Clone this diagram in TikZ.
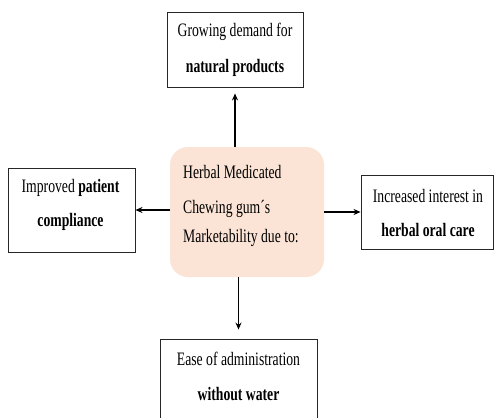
\documentclass[tikz,border=0pt]{standalone}
\usepackage{fontspec}
\setmainfont{Liberation Serif}[FakeStretch=0.72]
\usetikzlibrary{arrows.meta}
\definecolor{peach}{RGB}{251,228,214}
\tikzset{
  box/.style={draw=black!85, line width=0.9pt, fill=white, inner sep=0pt},
  hub/.style={fill=peach, rounded corners=18pt, inner sep=0pt},
  txt/.style={inner sep=0pt, font=\fontsize{19}{23}\selectfont},
  conn/.style={line width=1.3pt, -{Stealth[length=7pt,width=6pt]}}
}
\begin{document}
\begin{tikzpicture}[x=1pt,y=-1pt]
\clip (0,0) rectangle (494,417);
\useasboundingbox (0,0) rectangle (494,417);
\fill[white] (0,0) rectangle (494,417);
% boxes
\node[hub, minimum width=154pt, minimum height=130pt] (hub) at (247,212) {};
\node[box, minimum width=136pt, minimum height=75pt] (top) at (235,49.5) {};
\node[box, minimum width=127pt, minimum height=84pt] (left) at (71.5,210) {};
\node[box, minimum width=132pt, minimum height=74pt] (right) at (427,212) {};
\node[box, minimum width=157pt, minimum height=100pt] (bottom) at (238.5,389) {};
% texts
\node[txt, anchor=base] (t1) at (235,37) {Growing demand for};
\node[txt, anchor=base] (t2) at (235,73) {\textbf{natural products}};
\node[txt, anchor=base] (l1) at (70.5,192) {Improved \textbf{patient}};
\node[txt, anchor=base] (l2) at (70.5,226) {\textbf{compliance}};
\node[txt, anchor=base] (r1) at (428,202) {Increased interest in};
\node[txt, anchor=base] (r2) at (428,236) {\textbf{herbal oral care}};
\node[txt, anchor=base] (b1) at (238.5,365) {Ease of administration};
\node[txt, anchor=base] (b2) at (238.5,400) {\textbf{without water}};
\node[txt, anchor=base west] (h1) at (183,178) {Herbal Medicated};
\node[txt, anchor=base west] (h2) at (183,213) {Chewing gum´s};
\node[txt, anchor=base west] (h3) at (183,242) {Marketability due to:};
% connectors
\draw[conn, shorten >=6pt] (hub.north -| top.south) -- (top.south);
\draw[conn] (hub.west |- left.east) -- (left.east);
\draw[conn] (hub.east |- right.west) -- (right.west);
\draw[conn, shorten >=9pt] (hub.south -| bottom.north) -- (bottom.north);
\end{tikzpicture}
\end{document}
